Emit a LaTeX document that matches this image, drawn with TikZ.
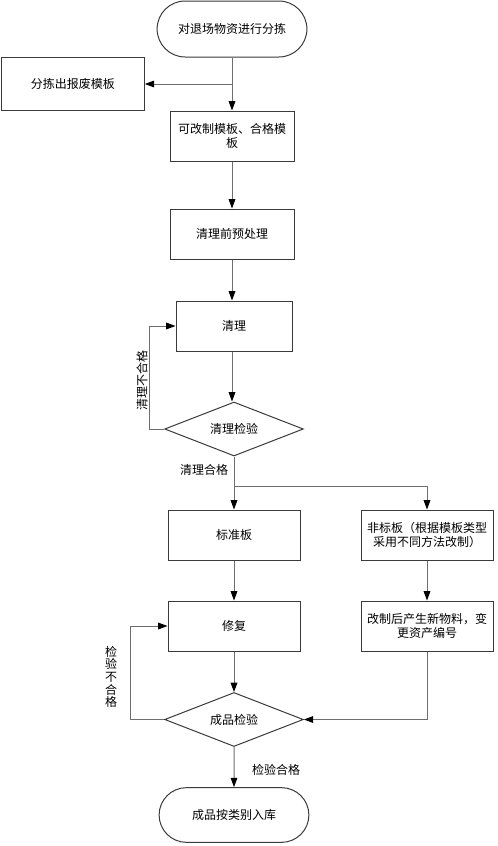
\documentclass[tikz,border=0pt]{standalone}
\usepackage{fontspec}
\setmainfont{Noto Sans CJK SC}
\usetikzlibrary{arrows.meta, positioning, shapes.geometric, shapes.misc, calc}
\definecolor{cline}{HTML}{6E6E6E}
\definecolor{cedge}{HTML}{3A3A3A}
\tikzset{
  every picture/.style={line width=0.75pt},
  proc/.style={draw=cedge, rectangle, align=center, inner sep=2pt, minimum height=37.5pt, minimum width=#1},
  proc/.default=93pt,
  term/.style={draw=cedge, rounded rectangle, minimum width=119pt, minimum height=42pt},
  decide/.style={draw=cedge, diamond, aspect=2.5, inner sep=0pt, minimum width=104pt, minimum height=40.5pt},
  arrow/.style={-{Triangle[length=7pt, width=5pt, color=black]}, draw=cline},
  link/.style={draw=cline},
  note/.style={font=\fontsize{9pt}{9.5pt}\selectfont, align=center},
}

\begin{document}
\begin{tikzpicture}[x=0.75pt, y=-0.75pt, every node/.append style={font=\fontsize{9pt}{11pt}\selectfont}]
  \useasboundingbox (0,0) rectangle (497,846);
  % main column
  \node[term] (start) at (232,29) {对退场物资进行分拣};
  \node[proc=107pt, minimum height=40pt] (scrap) at (73,84) {分拣出报废模板};
  \node[proc] (sort) at (232,136) {可改制模板、合格模\\板};
  \node[proc] (pre) at (232,234) {清理前预处理};
  \node[proc=87pt] (clean) at (234,326) {清理};
  \node[decide] (check1) at (234,429) {清理检验};
  % two branches
  \node[proc=99pt] (std) at (234,535) {标准板};
  \node[proc=99pt] (nonstd) at (427,535) {非标板（根据模板类型\\采用不同方法改制）};
  \node[proc=99pt] (repair) at (234,626) {修复};
  \node[proc=99pt] (remake) at (427,626) {改制后产生新物料，变\\更资产编号};
  \node[decide] (check2) at (234,719.5) {成品检验};
  \node[term, minimum height=41pt] (finish) at (234,815) {成品按类别入库};
  % connectors
  \coordinate (j1) at (start.south |- scrap.east);
  \draw[arrow] (start.south) -- (start.south |- sort.north);
  \draw[arrow] (j1) -- (scrap.east);
  \draw[arrow] (sort) -- (pre);
  \draw[arrow] (pre.south) -- (pre.south |- clean.north);
  \draw[arrow] (clean.south -| pre.south) -- (check1.north -| pre.south);
  \draw[arrow] (check1.west) -- ++(-15,0) |- (clean.west);
  \node[note, rotate=90] (lab1) at (142,380) {清理不合格};
  \coordinate (j2) at (234,486);
  \draw[link] (check1.south) -- (j2);
  \draw[arrow] (j2) -- (std.north);
  \draw[arrow] (j2) -| (nonstd.north);
  \node[note] (lab2) at (204,470) {清理合格};
  \draw[arrow] (std) -- (repair);
  \draw[arrow] (nonstd) -- (remake);
  \draw[arrow] (repair) -- (check2);
  \draw[arrow] (check2.west) -- (130,719.5) |- (repair.west);
  \node[note] (lab3) at (111,677) {检\\验\\不\\合\\格};
  \draw[arrow] (remake.south) |- (check2.east);
  \draw[arrow] (check2) -- (finish);
  \node[note] (lab4) at (276,770) {检验合格};
\end{tikzpicture}
\end{document}
